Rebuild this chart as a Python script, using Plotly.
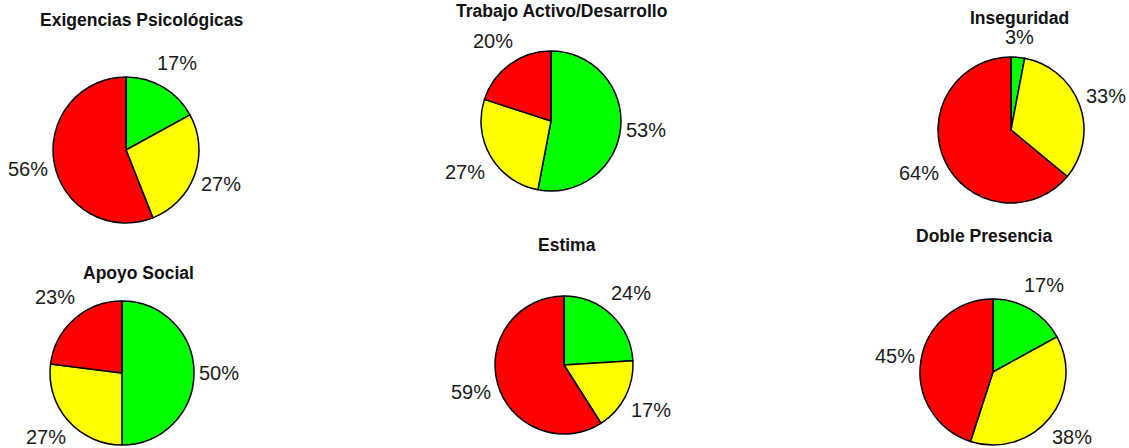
import math
import plotly.graph_objects as go

titles = ["Exigencias Psicológicas", "Trabajo Activo/Desarrollo", "Inseguridad",
          "Apoyo Social", "Estima", "Doble Presencia"]
categories = ["Verde", "Amarillo", "Rojo"]
exigencias = [17, 27, 56]
trabajo = [53, 27, 20]
inseguridad = [3, 33, 64]
apoyo = [50, 27, 23]
estima = [24, 17, 59]
doble = [17, 38, 45]
series = [exigencias, trabajo, inseguridad, apoyo, estima, doble]
colors = ["#00FF00", "#FFFF00", "#FF0000"]

W, H = 1129, 448
# pie centers / radii in pixels, and title positions
centers = [(126, 150, 73), (551, 121, 70), (1011, 130, 73),
           (122, 373, 72), (564, 365, 69), (993, 372, 73)]
title_pos = [(142, 20), (561, 11), (1019, 18), (138, 273), (567, 245), (984, 236)]
FONT = "Liberation Sans, Arial, sans-serif"
LABEL_SIZE = 20

fig = go.Figure()
for vals, (cx, cy, r) in zip(series, centers):
    fig.add_trace(go.Pie(
        labels=categories, values=vals, sort=False, direction="clockwise", rotation=0,
        marker=dict(colors=colors, line=dict(color="black", width=1.5)),
        textinfo="none", showlegend=False, hoverinfo="label+value",
        domain=dict(x=[(cx - r) / W, (cx + r) / W], y=[1 - (cy + r) / H, 1 - (cy - r) / H]),
    ))
    # Excel-style outside labels: text box placed just outside each slice's mid-angle
    total = float(sum(vals))
    cum = 0.0
    for v in vals:
        mid = (cum + v / 2.0) / total * 2 * math.pi
        cum += v
        txt = "%d%%" % round(100 * v / total)
        half_w = (0.556 * (len(txt) - 1) + 0.889) * LABEL_SIZE / 2
        half_h = 15
        d = r + 4.5 + abs(math.sin(mid)) * half_w + abs(math.cos(mid)) * half_h
        lx = cx + d * math.sin(mid)
        ly = min(cy - d * math.cos(mid), H - 11.5)
        fig.add_annotation(text=txt, x=lx / W, y=1 - ly / H,
                           xref="paper", yref="paper", showarrow=False,
                           xanchor="center", yanchor="middle",
                           font=dict(family=FONT, size=LABEL_SIZE, color="#1a1a1a"))

for t, (tx, ty) in zip(titles, title_pos):
    fig.add_annotation(text="<b>%s</b>" % t, x=tx / W, y=1 - ty / H, xref="paper", yref="paper",
                       showarrow=False, xanchor="center", yanchor="middle",
                       font=dict(family=FONT, size=17.5, color="#111111"))

fig.update_layout(width=W, height=H, margin=dict(l=0, r=0, t=0, b=0),
                  paper_bgcolor="white", plot_bgcolor="white")
fig.write_html("out.html", post_script="document.body.style.margin='0';",
               config={"displayModeBar": False})
